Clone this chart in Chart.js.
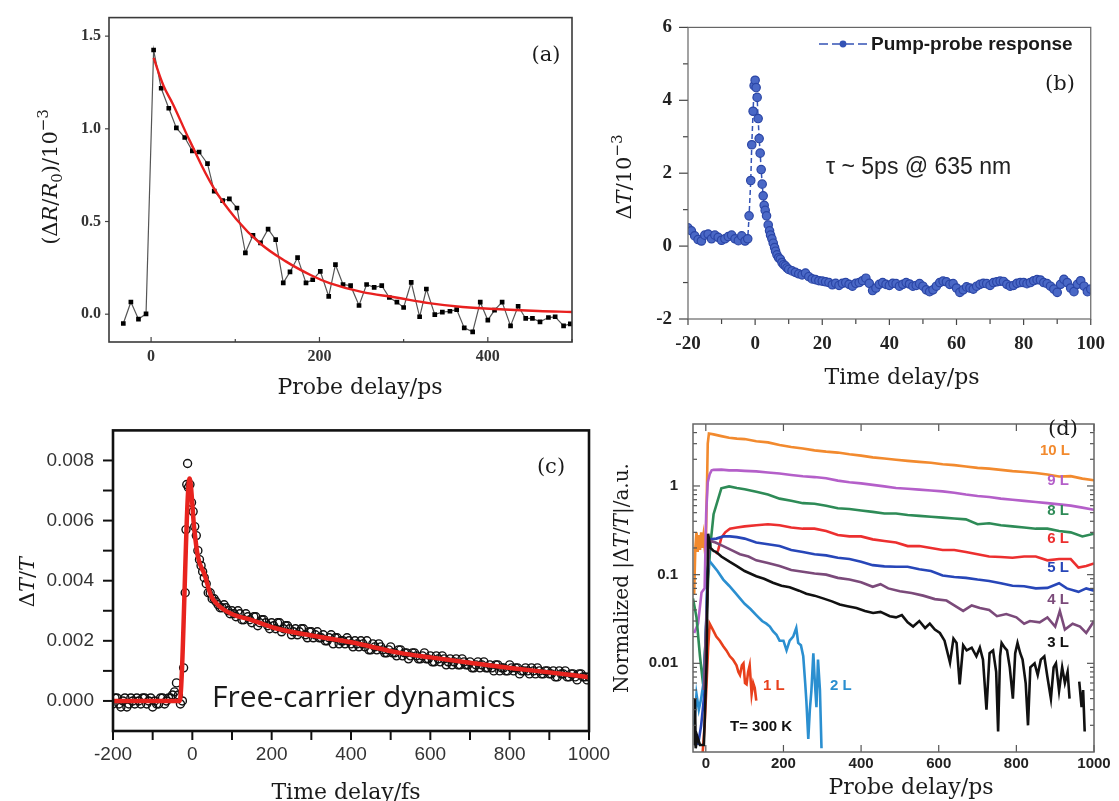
<!DOCTYPE html>
<html>
<head>
<meta charset="utf-8">
<script src="https://cdn.jsdelivr.net/npm/chart.js@4.4.0/dist/chart.umd.min.js"></script>
<style>
  body { margin: 0; background: #fff; width: 1119px; height: 801px; position: relative; overflow: hidden; }
  .panel { position: absolute; }
</style>
</head>
<body>
<div class="panel" style="left:0;top:0;width:590px;height:400px"><canvas id="chartA"></canvas></div>
<div class="panel" style="left:590px;top:0;width:529px;height:400px"><canvas id="chartB"></canvas></div>
<div class="panel" style="left:0;top:400px;width:640px;height:401px"><canvas id="chartC"></canvas></div>
<div class="panel" style="left:600px;top:400px;width:519px;height:401px"><canvas id="chartD"></canvas></div>
<script>
// ---- (a) reflectivity, probe delay in ps ----
var aDelay = [-33,-24,-15,-6,3,12,21,30,40,49,57,67,75,85,93,102,112,121,130,139,148,157,165,174,184,192,201,211,219,228,237,247,256,265,274,283,292,300,309,319,327,337,346,355,363,372,382,391,400,408,417,427,436,445,453,462,472,480,490,498];
var aSignal = [-0.05,0.066,-0.027,0.002,1.425,1.219,1.111,1.005,0.953,0.881,0.875,0.812,0.664,0.613,0.622,0.573,0.331,0.425,0.385,0.459,0.402,0.169,0.228,0.305,0.169,0.186,0.231,0.096,0.267,0.16,0.154,0.047,0.16,0.145,0.154,0.09,0.065,0.036,0.172,-0.014,0.136,-0.002,0.011,0.016,0.025,-0.074,-0.095,0.065,-0.032,0.022,0.065,-0.063,0.043,-0.023,-0.023,-0.041,-0.018,-0.014,-0.063,-0.052];
var aFitX = [3,15,26,46,74,101,130,160,190,212,250,291,330,370,420,460,500];
var aFitY = [1.383,1.23,1.133,0.935,0.684,0.514,0.38,0.285,0.21,0.168,0.12,0.09,0.06,0.039,0.025,0.017,0.012];
var aTicksX = [0,200,400];
var aMinorX = [100,300,500];
var aTicksY = [0,0.5,1.0,1.5];

// ---- (b) pump-probe response ----
var bDelay = [-20,-19,-18,-17,-16,-15,-14,-13,-12,-11,-10,-9,-8,-7,-6,-5,-4,-3,-2.2,
  -1.8,-1.3,-1.0,-0.6,-0.3,0,0.3,0.6,0.9,1.2,1.5,1.8,2.1,2.4,2.7,3.0,3.4,3.9,4.3,4.6,5.0,5.4,5.8,6.1,6.5,7.0,7.5,8.0,8.5,9.0,9.5,10,
  11,12,13,14,15,16,17,18,19,20,21,22,23,24,25,26,27,28,29,30,31,32,33,34,35,36,37,38,39,40,
  41,42,43,44,45,46,47,48,49,50,51,52,53,54,55,56,57,58,59,60,61,62,63,64,65,66,67,68,69,70,
  71,72,73,74,75,76,77,78,79,80,81,82,83,84,85,86,87,88,89,90,91,92,93,94,95,96,97,98,99,100];
var bSignal = [0.5,0.42,0.28,0.18,0.14,0.3,0.33,0.2,0.3,0.24,0.16,0.2,0.26,0.3,0.2,0.15,0.28,0.14,0.2,
  0.83,1.8,2.78,3.7,4.4,4.55,4.35,4.08,3.5,2.95,2.55,2.1,1.7,1.38,1.12,0.98,0.83,0.58,0.42,0.3,0.2,0.08,-0.04,-0.14,-0.24,-0.32,-0.36,-0.45,-0.51,-0.54,-0.6,-0.64,
  -0.68,-0.72,-0.76,-0.79,-0.74,-0.84,-0.9,-0.92,-0.95,-0.96,-0.98,-1.0,-1.06,-1.02,-1.08,-1.02,-1.0,-1.05,-1.1,-1.02,-1.0,-0.95,-0.88,-1.02,-1.22,-1.15,-1.05,-1.0,-1.05,-1.08,
  -1.02,-1.03,-1.1,-1.05,-1.0,-1.04,-1.1,-1.08,-1.03,-1.1,-1.2,-1.25,-1.2,-1.1,-1.0,-0.96,-0.98,-1.05,-1.03,-1.15,-1.27,-1.2,-1.12,-1.15,-1.18,-1.1,-1.05,-1.02,-1.03,-1.08,
  -1.0,-0.98,-0.96,-0.97,-1.05,-1.1,-1.08,-1.02,-1.0,-1.0,-1.03,-1.0,-0.95,-0.92,-0.93,-1.0,-1.03,-1.1,-1.18,-1.27,-1.05,-0.91,-1.0,-1.15,-1.25,-1.05,-0.95,-1.1,-1.25,-1.18];
var bTicksX = [-20,0,20,40,60,80,100];
var bMinorX = [-10,10,30,50,70,90];
var bTicksY = [-2,0,2,4,6];
var bMinorY = [-1,1,3,5];

// ---- (c) free-carrier dynamics, delay in fs (two interleaved scans) ----
var cDelay = [-200,-190,-180,-170,-160,-150,-140,-130,-120,-110,-100,-90,-80,-70,-60,-50,-45,-40,-35,-30,-25,-22,-18,-16,-14,-12,-10,-6,-2,2,6,10,14,18,22,26,30,35,40,45,50,60,70,80,90,
  100,110,120,130,140,150,160,170,180,190,200,210,220,230,240,250,260,270,280,290,300,310,320,330,340,350,360,370,380,390,
  400,410,420,430,440,450,460,470,480,490,500,510,520,530,540,550,560,570,580,590,600,610,620,630,640,650,660,670,680,690,
  700,710,720,730,740,750,760,770,780,790,800,810,820,830,840,850,860,870,880,890,900,910,920,930,940,950,960,970,980,990,1000];
var cSignal = [-0.0001,0.0001,-0.0002,0.0001,-0.0001,0.0,0.0001,-0.0001,0.0001,0.0,-0.0002,-0.0001,0.0001,-0.0001,0.0001,0.0002,0.0003,0.0006,0.0002,-0.0001,0.0,0.0011,0.0036,0.0057,0.0072,0.0079,0.0071,0.0072,0.0066,0.0063,0.0058,0.0055,0.005,0.0047,0.0045,0.0043,0.0041,0.0039,0.0036,0.0036,0.0034,0.0033,0.0031,0.0032,0.003,
  0.003,0.0028,0.0029,0.0027,0.0028,0.0026,0.0028,0.0026,0.0027,0.0025,0.0026,0.0024,0.0026,0.0024,0.0025,0.0022,0.0024,0.0023,0.0024,0.0021,0.0023,0.0022,0.0021,0.0022,0.002,0.0022,0.0021,0.0019,0.002,0.0021,
  0.0019,0.002,0.0018,0.0019,0.002,0.0017,0.0018,0.0019,0.0017,0.0016,0.0018,0.0016,0.0017,0.0015,0.0016,0.0015,0.0016,0.0014,0.0015,0.0014,0.0015,0.0013,0.0014,0.0015,0.0012,0.0014,0.0013,0.0012,0.0014,0.0012,
  0.0013,0.0011,0.0013,0.0012,0.0011,0.0012,0.001,0.0012,0.0011,0.001,0.0012,0.001,0.0011,0.001,0.0011,0.0009,0.001,0.0011,0.0009,0.001,0.0009,0.001,0.0008,0.0009,0.001,0.0008,0.0009,0.0007,0.0009,0.0008,0.0008];
var cDelay2 = [-195,-185,-175,-165,-155,-145,-135,-125,-115,-105,-95,-85,-75,-65,-55,
  55,65,75,85,95,
  105,115,125,135,145,155,165,175,185,195,205,215,225,235,245,255,265,275,285,295,
  305,315,325,335,345,355,365,375,385,395,405,415,425,435,445,455,465,475,485,495,
  505,515,525,535,545,555,565,575,585,595,605,615,625,635,645,655,665,675,685,695,
  705,715,725,735,745,755,765,775,785,795,805,815,825,835,845,855,865,875,885,895,
  905,915,925,935,945,955,965,975,985,995];
var cSignal2 = [0.0001,-0.0001,0.0,-0.0002,0.0001,-0.0001,0.0,0.0001,-0.0001,0.0001,0.0,-0.0001,0.0001,0.0,0.0001,
  0.0034,0.0032,0.0031,0.0031,0.0029,
  0.0029,0.003,0.0027,0.0029,0.0027,0.0028,0.0025,0.0027,0.0026,0.0024,0.0025,0.0026,0.0023,0.0025,0.0024,0.0023,0.0022,0.0024,0.0022,0.0023,
  0.0021,0.0023,0.0021,0.002,0.0021,0.0019,0.0021,0.002,0.0019,0.002,0.0018,0.0019,0.002,0.0018,0.0017,0.0019,0.0017,0.0018,0.0016,0.0017,
  0.0016,0.0015,0.0017,0.0016,0.0014,0.0016,0.0015,0.0014,0.0016,0.0014,0.0013,0.0015,0.0013,0.0014,0.0013,0.0012,0.0014,0.0012,0.0013,0.0012,
  0.0011,0.0012,0.0011,0.0013,0.0011,0.0011,0.0012,0.001,0.0011,0.001,0.0011,0.0011,0.0009,0.001,0.001,0.0011,0.0009,0.001,0.0009,0.001,
  0.0009,0.0008,0.001,0.0009,0.0008,0.0009,0.0008,0.0009,0.0008,0.0007];
var cFitX = [-200,-32,-7,5,14,31,47,64,98,148,215,291,400,523,600,700,812,900,1000];
var cFitY = [0,0,0.0074,0.0057,0.0048,0.0042,0.0035,0.0032,0.0029,0.0027,0.0024,0.0022,0.00195,0.0016,0.00145,0.00127,0.00108,0.00095,0.00079];
var cTicksX = [-200,0,200,400,600,800,1000];
var cMinorX = [-100,100,300,500,700,900];
var cTicksY = [0,0.002,0.004,0.006,0.008];
var cMinorY = [0.001,0.003,0.005,0.007];

// ---- (d) layer-dependent decays, probe delay in ps ----
var dTailX = [20,40,60,80,100,130,160,190,220,250,280,310,340,370,400,430,460,490,520,550,580,610,640,670,700,730,760,790,820,850,880,910,940,970,1000];
var d10X = [-30,-27,-24,-21,-18,-15,-12,-9,-6,-3,0,3,5,8].concat(dTailX);
var d10Y = [0.06,0.2,0.3,0.18,0.28,0.19,0.3,0.2,0.27,0.2,0.22,1.0,3.0,3.9,
  3.82,3.65,3.5,3.42,3.38,3.2,3.1,2.9,2.75,2.65,2.52,2.44,2.38,2.28,2.2,2.1,2.04,1.98,1.92,1.87,1.83,1.76,1.72,1.66,1.6,1.57,1.52,1.47,1.44,1.4,1.35,1.28,1.29,1.21,1.16];
var d9X = [-30,-20,-11,-3,1,5,10,15].concat(dTailX);
var d9Y = [0.022,0.028,0.063,0.07,0.5,1.1,1.36,1.5,
  1.52,1.53,1.5,1.5,1.48,1.46,1.42,1.38,1.33,1.29,1.26,1.22,1.15,1.1,1.07,1.03,0.99,0.95,0.93,0.91,0.89,0.87,0.84,0.8,0.77,0.75,0.72,0.7,0.68,0.66,0.64,0.62,0.6,0.57,0.54];
var d8X = [-33,-24,-15,-7,0,6,12].concat(dTailX);
var d8Y = [0.054,0.033,0.012,0.0058,0.02,0.089,0.22,
  0.48,0.94,0.99,0.95,0.92,0.86,0.8,0.72,0.68,0.64,0.63,0.6,0.56,0.55,0.53,0.51,0.49,0.49,0.47,0.46,0.45,0.44,0.43,0.42,0.37,0.38,0.36,0.35,0.34,0.33,0.33,0.31,0.3,0.27,0.29];
var d6X = [27,32,40,50,62,80,100,130,160,190,220,250,280,310,340,370,400,430,460,490,520,550,580,610,640,670,700,730,760,790,820,850,880,910,940,960,980,1000];
var d6Y = [0.17,0.19,0.26,0.3,0.33,0.34,0.35,0.36,0.37,0.36,0.34,0.33,0.33,0.31,0.28,0.27,0.27,0.25,0.24,0.23,0.21,0.21,0.2,0.19,0.19,0.18,0.17,0.16,0.158,0.155,0.16,0.16,0.145,0.15,0.15,0.12,0.125,0.134];
var d5X = [-20,-12,-5,0,5,10,27,45,62,80,100,130,160,190,220,250,280,310,340,370,400,430,460,490,520,550,580,610,640,670,700,730,760,790,820,850,880,910,930,960,980,1000];
var d5Y = [0.0012,0.002,0.004,0.02,0.1,0.25,0.255,0.27,0.27,0.265,0.255,0.23,0.22,0.21,0.19,0.18,0.17,0.165,0.155,0.15,0.14,0.128,0.124,0.123,0.123,0.115,0.11,0.098,0.094,0.092,0.088,0.085,0.08,0.075,0.074,0.07,0.071,0.08,0.07,0.064,0.07,0.066];
var d4X = [-5,3,8,12,25,45,65,88,110,130,160,190,220,250,280,310,340,370,400,430,450,470,500,530,560,590,620,640,663,685,706,730,750,774,800,820,835,860,880,900,912,925,945,964,980,1000];
var d4Y = [0.005,0.05,0.2,0.24,0.23,0.21,0.19,0.17,0.16,0.145,0.135,0.125,0.113,0.108,0.103,0.1,0.092,0.088,0.082,0.073,0.078,0.07,0.065,0.062,0.058,0.053,0.051,0.045,0.039,0.045,0.042,0.04,0.034,0.036,0.033,0.028,0.03,0.029,0.033,0.026,0.039,0.024,0.028,0.026,0.022,0.03];
var d3X = [-30,-28,-26,-22,-15,-5,2,6,12,20,27,40,62,80,100,130,150,173,195,216,240,259,280,302,325,345,365,388,410,431,450,474,490,505,520,534,550,565,577,590,603,615,629,638,646,654,663,672,685,697,706,714,723,731,740,748,753,758,762,770,776,783,791,797,803,810,816,824,830,836,847,855,863,872,880,889,896,902,910,918,925,932,937,945,962,968,972,976];
var d3Y = [0.0012,0.004,0.0011,0.0015,0.0012,0.0012,0.01,0.29,0.2,0.185,0.18,0.16,0.139,0.125,0.11,0.096,0.09,0.081,0.075,0.072,0.066,0.061,0.058,0.054,0.05,0.046,0.044,0.042,0.039,0.037,0.038,0.034,0.033,0.035,0.029,0.026,0.03,0.025,0.028,0.024,0.022,0.018,0.0102,0.019,0.017,0.0058,0.016,0.014,0.015,0.012,0.015,0.011,0.003,0.013,0.014,0.008,0.0017,0.012,0.017,0.015,0.014,0.009,0.004,0.013,0.017,0.013,0.011,0.006,0.002,0.009,0.01,0.0074,0.011,0.012,0.007,0.004,0.009,0.01,0.0049,0.009,0.006,0.008,0.004,null,0.0062,0.0032,0.005,0.0017];
var d2X = [-30,-24,-18,-12,-6,0,4,8,20,30,45,60,75,88,100,115,130,145,156,165,173,182,190,200,208,216,225,233,238,245,251,256,259,264,268,272,277,281,285,289,294,298];
var d2Y = [0.002,0.0045,0.003,0.004,0.006,0.02,0.1,0.145,0.125,0.11,0.088,0.075,0.063,0.054,0.047,0.041,0.035,0.03,0.028,0.026,0.023,0.021,0.018,0.018,0.014,0.018,0.02,0.025,0.017,0.016,0.012,0.006,0.0038,0.0014,0.003,0.0049,0.013,0.006,0.0032,0.011,0.005,0.0011];
var d1X = [-8,-3,2,6,10,18,27,36,45,53,62,70,79,84,88,93,97,101,105,109,113,118,122,126,130];
var d1Y = [0.001,0.002,0.006,0.015,0.028,0.024,0.02,0.018,0.0156,0.014,0.012,0.011,0.0095,0.008,0.0074,0.0095,0.01,0.006,0.0058,0.008,0.0095,0.0045,0.006,0.0053,0.0038];
var dTicksX = [0,200,400,600,800,1000];
var dTicksY = [0.01,0.1,1];
var dMinorY = [0.002,0.003,0.004,0.005,0.006,0.007,0.008,0.009,0.02,0.03,0.04,0.05,0.06,0.07,0.08,0.09,0.2,0.3,0.4,0.5,0.6,0.7,0.8,0.9,2,3,4];

Chart.defaults.animation = false;
Chart.defaults.font.family = 'Liberation Sans';

function pts(xs, ys) {
  return xs.map(function (x, i) { return { x: x, y: ys[i] }; });
}

var SERIF = 'DejaVu Serif';

// draws text made of runs (italic / sub / sup), optionally rotated
function drawRich(ctx, t) {
  var size = t.size || 20;
  var fam = t.family || SERIF;
  var runs = t.runs || [{ s: t.text }];
  function fontOf(r) {
    var sz = (r.sub || r.sup) ? Math.round(size * 0.7) : size;
    return (r.it ? 'italic ' : '') + (t.weight || 'normal') + ' ' + sz + 'px "' + fam + '"';
  }
  var total = 0;
  runs.forEach(function (r) { ctx.font = fontOf(r); r.w = ctx.measureText(r.s).width; total += r.w; });
  ctx.save();
  ctx.translate(t.x, t.y);
  if (t.rotate) ctx.rotate(t.rotate * Math.PI / 180);
  ctx.fillStyle = t.color || '#1a1a1a';
  ctx.textBaseline = 'middle';
  ctx.textAlign = 'left';
  var x = t.align === 'left' ? 0 : (t.align === 'right' ? -total : -total / 2);
  runs.forEach(function (r) {
    ctx.font = fontOf(r);
    var dy = r.sub ? size * 0.3 : (r.sup ? -size * 0.38 : 0);
    ctx.fillText(r.s, x, dy);
    x += r.w;
  });
  ctx.restore();
}

// frame, tick marks, texts and legend sample
var decoPlugin = {
  id: 'deco',
  afterDraw: function (chart, args, opts) {
    var ctx = chart.ctx, area = chart.chartArea;
    ctx.save();
    (opts.ticks || []).forEach(function (t) {
      var sc = chart.scales[t.axis];
      ctx.strokeStyle = t.color || '#333';
      ctx.lineWidth = t.width || 1.2;
      var d = t.dir === 'in' ? 1 : -1;
      t.values.forEach(function (v) {
        var p = sc.getPixelForValue(v);
        t.sides.forEach(function (side) {
          ctx.beginPath();
          if (side === 'left') { ctx.moveTo(area.left, p); ctx.lineTo(area.left + d * t.len, p); }
          if (side === 'right') { ctx.moveTo(area.right, p); ctx.lineTo(area.right - d * t.len, p); }
          if (side === 'bottom') { ctx.moveTo(p, area.bottom); ctx.lineTo(p, area.bottom - d * t.len); }
          if (side === 'top') { ctx.moveTo(p, area.top); ctx.lineTo(p, area.top + d * t.len); }
          ctx.stroke();
        });
      });
    });
    if (opts.frame) {
      ctx.strokeStyle = opts.frame.color;
      ctx.lineWidth = opts.frame.width;
      ctx.strokeRect(area.left, area.top, area.right - area.left, area.bottom - area.top);
    }
    (opts.shapes || []).forEach(function (s) {
      if (s.type === 'line') {
        ctx.strokeStyle = s.color; ctx.lineWidth = s.width;
        ctx.setLineDash(s.dash || []);
        ctx.beginPath(); ctx.moveTo(s.x1, s.y); ctx.lineTo(s.x2, s.y); ctx.stroke();
        ctx.setLineDash([]);
      } else {
        ctx.fillStyle = s.color;
        ctx.beginPath(); ctx.arc(s.x, s.y, s.r, 0, Math.PI * 2); ctx.fill();
      }
    });
    (opts.texts || []).forEach(function (t) { drawRich(ctx, t); });
    ctx.restore();
  }
};

function fixedTicks(values) {
  return function (s) { s.ticks = values.map(function (v) { return { value: v }; }); };
}

var noGrid = { display: false, drawTicks: false };
var noBorder = { display: false };

// ---------- (a) ----------
new Chart('chartA', {
  type: 'line',
  data: {
    datasets: [{
      label: 'fit',
      data: pts(aFitX, aFitY),
      borderColor: '#e8201f',
      borderWidth: 2.4,
      pointRadius: 0,
      tension: 0.4,
      order: 0
    }, {
      label: 'data',
      data: pts(aDelay, aSignal),
      borderColor: '#555',
      borderWidth: 1.2,
      pointStyle: 'rect',
      pointRadius: 3.3,
      pointBackgroundColor: '#000',
      pointBorderColor: '#000',
      pointBorderWidth: 0,
      order: 1
    }]
  },
  options: {
    responsive: true,
    maintainAspectRatio: false,
    layout: { padding: { top: 16, right: 18, left: 0, bottom: 0 } },
    plugins: {
      legend: { display: false },
      tooltip: { enabled: false },
      deco: {
        frame: { color: '#3a3a3a', width: 1.6 },
        ticks: [
          { axis: 'y', values: aTicksY, sides: ['left'], dir: 'out', len: 4, color: '#444' },
          { axis: 'x', values: aTicksX, sides: ['bottom'], dir: 'in', len: 5, color: '#444' },
          { axis: 'x', values: aMinorX, sides: ['bottom'], dir: 'in', len: 3, color: '#444' }
        ],
        texts: [
          { text: '(a)', x: 546, y: 56, size: 21 },
          { text: 'Probe delay/ps', x: 360, y: 388, size: 22 },
          { runs: [{ s: '(Δ' }, { s: 'R', it: 1 }, { s: '/' }, { s: 'R', it: 1 }, { s: '0', sub: 1 }, { s: ')/10' }, { s: '−3', sup: 1 }],
            x: 52, y: 177, size: 21, rotate: -90 }
        ]
      }
    },
    scales: {
      x: {
        type: 'linear', min: -50, max: 500,
        grid: noGrid, border: noBorder,
        afterBuildTicks: fixedTicks(aTicksX),
        afterFit: function (s) { s.height = 58; },
        ticks: { autoSkip: false, maxRotation: 0, padding: 5, color: '#333',
                 font: { family: 'Liberation Serif', size: 16, weight: 'bold' },
                 callback: function (v) { return String(v); } }
      },
      y: {
        type: 'linear', min: -0.15, max: 1.6,
        grid: noGrid, border: noBorder,
        afterBuildTicks: fixedTicks(aTicksY),
        afterFit: function (s) { s.width = 109; },
        ticks: { autoSkip: false, padding: 8, color: '#333',
                 font: { family: 'Liberation Serif', size: 16, weight: 'bold' },
                 callback: function (v) { return v.toFixed(1); } }
      }
    }
  },
  plugins: [decoPlugin]
});

// ---------- (b) ----------
var blue = '#3453b5';
new Chart('chartB', {
  type: 'line',
  data: {
    datasets: [{
      label: 'Pump-probe response',
      data: pts(bDelay, bSignal),
      borderColor: blue,
      borderWidth: 1.5,
      borderDash: [5, 3],
      pointRadius: 4.2,
      pointBackgroundColor: '#4a68c6',
      pointBorderColor: '#2b46a6',
      pointBorderWidth: 1.2
    }]
  },
  options: {
    responsive: true,
    maintainAspectRatio: false,
    layout: { padding: { top: 21, right: 16, left: 0, bottom: 0 } },
    plugins: {
      legend: { display: false },
      tooltip: { enabled: false },
      deco: {
        frame: { color: '#666', width: 1.2 },
        ticks: [
          { axis: 'y', values: bTicksY, sides: ['left'], dir: 'out', len: 9, color: '#444' },
          { axis: 'y', values: bMinorY, sides: ['left'], dir: 'out', len: 5, color: '#444' },
          { axis: 'x', values: bTicksX, sides: ['bottom'], dir: 'out', len: 6, color: '#444' },
          { axis: 'x', values: bMinorX, sides: ['bottom'], dir: 'out', len: 5, color: '#444' }
        ],
        shapes: [
          { type: 'line', x1: 229, x2: 278, y: 44, color: blue, width: 1.6, dash: [9, 4] },
          { type: 'dot', x: 253, y: 44, r: 3.4, color: blue }
        ],
        texts: [
          { text: 'Pump-probe response', x: 281, y: 45, size: 19, family: 'Liberation Sans', weight: 'bold', align: 'left', color: '#1a1a1a' },
          { text: '(b)', x: 470, y: 85, size: 21 },
          { text: 'τ ~ 5ps @ 635 nm', x: 236, y: 168, size: 23, family: 'Liberation Sans', align: 'left', color: '#222' },
          { text: 'Time delay/ps', x: 312, y: 378, size: 22 },
          { runs: [{ s: 'Δ' }, { s: 'T', it: 1 }, { s: '/10' }, { s: '−3', sup: 1 }],
            x: 36, y: 177, size: 21, rotate: -90 }
        ]
      }
    },
    scales: {
      x: {
        type: 'linear', min: -20, max: 100,
        grid: noGrid, border: noBorder,
        afterBuildTicks: fixedTicks(bTicksX),
        afterFit: function (s) { s.height = 81; },
        ticks: { autoSkip: false, maxRotation: 0, padding: 14, color: '#222',
                 font: { family: 'Liberation Serif', size: 19, weight: 'bold' },
                 callback: function (v) { return String(v); } }
      },
      y: {
        type: 'linear', min: -2, max: 6,
        grid: noGrid, border: noBorder,
        afterBuildTicks: fixedTicks(bTicksY),
        afterFit: function (s) { s.width = 98; },
        ticks: { autoSkip: false, padding: 16, color: '#222',
                 font: { family: 'Liberation Serif', size: 19, weight: 'bold' },
                 callback: function (v) { return String(v); } }
      }
    }
  },
  plugins: [decoPlugin]
});

// ---------- (c) ----------
var ring = { showLine: false, pointRadius: 4, pointBackgroundColor: 'rgba(0,0,0,0)', pointBorderColor: '#111', pointBorderWidth: 1.4, order: 1 };
new Chart('chartC', {
  type: 'line',
  data: {
    datasets: [{
      label: 'fit',
      data: pts(cFitX, cFitY),
      borderColor: '#e8231e',
      borderWidth: 4.5,
      pointRadius: 0,
      cubicInterpolationMode: 'monotone',
      order: 0
    },
    Object.assign({ label: 'scan 1', data: pts(cDelay, cSignal) }, ring),
    Object.assign({ label: 'scan 2', data: pts(cDelay2, cSignal2) }, ring)]
  },
  options: {
    responsive: true,
    maintainAspectRatio: false,
    layout: { padding: { top: 28, right: 51, left: 0, bottom: 0 } },
    plugins: {
      legend: { display: false },
      tooltip: { enabled: false },
      deco: {
        frame: { color: '#111', width: 2.6 },
        ticks: [
          { axis: 'y', values: cTicksY.concat(cMinorY), sides: ['left'], dir: 'out', len: 10, color: '#111', width: 2 },
          { axis: 'x', values: cTicksX.concat(cMinorX), sides: ['bottom'], dir: 'out', len: 9, color: '#111', width: 2 }
        ],
        texts: [
          { text: '(c)', x: 551, y: 68, size: 21 },
          { text: 'Free-carrier dynamics', x: 212, y: 298, size: 30, family: 'Open Sans', align: 'left', color: '#1a1a1a' },
          { text: 'Time delay/fs', x: 346, y: 393, size: 22 },
          { runs: [{ s: 'Δ' }, { s: 'T', it: 1 }, { s: '/' }, { s: 'T', it: 1 }],
            x: 29, y: 182, size: 21, rotate: -90 }
        ]
      }
    },
    scales: {
      x: {
        type: 'linear', min: -200, max: 1000,
        grid: noGrid, border: noBorder,
        afterBuildTicks: fixedTicks(cTicksX),
        afterFit: function (s) { s.height = 70; },
        ticks: { autoSkip: false, maxRotation: 0, padding: 12, color: '#333',
                 font: { family: 'Liberation Sans', size: 19 },
                 callback: function (v) { return String(v); } }
      },
      y: {
        type: 'linear', min: -0.001, max: 0.009,
        grid: noGrid, border: noBorder,
        afterBuildTicks: fixedTicks(cTicksY),
        afterFit: function (s) { s.width = 113; },
        ticks: { autoSkip: false, padding: 19, color: '#333',
                 font: { family: 'Liberation Sans', size: 19 },
                 callback: function (v) { return v.toFixed(3); } }
      }
    }
  },
  plugins: [decoPlugin]
});

// ---------- (d) ----------
function layer(label, xs, ys, color) {
  return { label: label, data: pts(xs, ys), borderColor: color, borderWidth: 2.6, pointRadius: 0, spanGaps: false };
}
var dColors = { l10: '#f28a2e', l9: '#b45fc9', l8: '#2e8b57', l6: '#ec2f2f', l5: '#2746b8', l4: '#7b4a7a', l3: '#111111', l2: '#2b8fd0', l1: '#e8401c' };
function lab(text, x, y, color, align) {
  return { text: text, x: x, y: y, color: color, size: 15, family: 'Liberation Sans', weight: 'bold', align: align || 'right' };
}
new Chart('chartD', {
  type: 'line',
  data: {
    datasets: [
      layer('3 L', d3X, d3Y, dColors.l3),
      layer('4 L', d4X, d4Y, dColors.l4),
      layer('2 L', d2X, d2Y, dColors.l2),
      layer('1 L', d1X, d1Y, dColors.l1),
      layer('5 L', d5X, d5Y, dColors.l5),
      layer('6 L', d6X, d6Y, dColors.l6),
      layer('8 L', d8X, d8Y, dColors.l8),
      layer('9 L', d9X, d9Y, dColors.l9),
      layer('10 L', d10X, d10Y, dColors.l10)
    ]
  },
  options: {
    responsive: true,
    maintainAspectRatio: false,
    layout: { padding: { top: 9, right: 25, left: 0, bottom: 0 } },
    plugins: {
      legend: { display: false },
      tooltip: { enabled: false },
      deco: {
        frame: { color: '#666', width: 1.5 },
        ticks: [
          { axis: 'y', values: dTicksY, sides: ['left', 'right'], dir: 'in', len: 7, color: '#555' },
          { axis: 'y', values: dMinorY, sides: ['left', 'right'], dir: 'in', len: 4, color: '#555' },
          { axis: 'x', values: dTicksX, sides: ['bottom', 'top'], dir: 'in', len: 7, color: '#555' }
        ],
        texts: [
          { text: '(d)', x: 463, y: 30, size: 21 },
          lab('10 L', 470, 51, dColors.l10),
          lab('9 L', 469, 81, dColors.l9),
          lab('8 L', 469, 111, dColors.l8),
          lab('6 L', 469, 139, dColors.l6),
          lab('5 L', 469, 168, dColors.l5),
          lab('4 L', 469, 200, dColors.l4),
          lab('3 L', 469, 243, dColors.l3),
          lab('1 L', 163, 286, dColors.l1, 'left'),
          lab('2 L', 230, 286, dColors.l2, 'left'),
          lab('T= 300 K', 130, 327, '#111', 'left'),
          { text: 'Probe delay/ps', x: 311, y: 388, size: 22 },
          { runs: [{ s: 'Normalized |Δ' }, { s: 'T', it: 1 }, { s: '/' }, { s: 'T', it: 1 }, { s: '|/a.u.' }],
            x: 23, y: 178, size: 20, rotate: -90 }
        ]
      }
    },
    scales: {
      x: {
        type: 'linear', min: -33, max: 1000,
        grid: noGrid, border: noBorder,
        afterBuildTicks: fixedTicks(dTicksX),
        afterFit: function (s) { s.height = 49; },
        ticks: { autoSkip: false, maxRotation: 0, padding: 3, color: '#222',
                 font: { family: 'Liberation Sans', size: 15, weight: 'bold' },
                 callback: function (v) { return String(v); } }
      },
      y: {
        type: 'logarithmic', min: 0.001, max: 5,
        grid: noGrid, border: noBorder,
        afterBuildTicks: fixedTicks(dTicksY),
        afterFit: function (s) { s.width = 93; },
        ticks: { autoSkip: false, padding: 15, color: '#222',
                 font: { family: 'Liberation Sans', size: 15, weight: 'bold' },
                 callback: function (v) { return String(v); } }
      }
    }
  },
  plugins: [decoPlugin]
});
</script>
</body>
</html>
